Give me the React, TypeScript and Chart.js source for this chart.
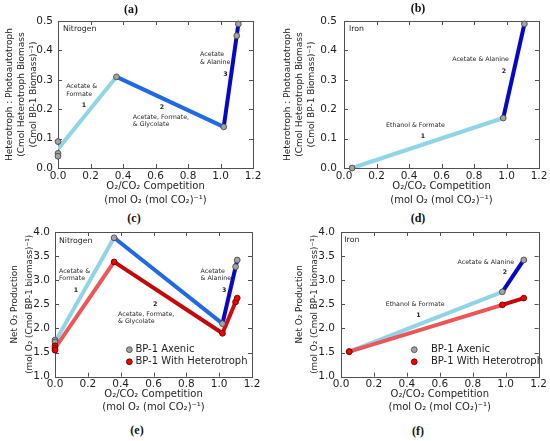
import React, { useEffect, useRef } from "react";
import { Chart, registerables } from "chart.js";

Chart.register(...registerables);

const FONT = '"DejaVu Sans", "Noto Sans", sans-serif';
const TEXT = "#1e1e1e";

// ---------------- data ----------------
const competitionTicks = [0.0, 0.2, 0.4, 0.6, 0.8, 1.0, 1.2];
const ratioTicks = [0.0, 0.1, 0.2, 0.3, 0.4, 0.5];
const productionTicks = [1.0, 1.5, 2.0, 2.5, 3.0, 3.5, 4.0];

// (a) Nitrogen: heterotroph : photoautotroph ratio
const nitrogenRatioLineX = [0.0, 0.36, 1.02, 1.11];
const nitrogenRatioLineY = [0.065, 0.31, 0.14, 0.49];
const nitrogenRatioPointX = [0.0, 0.0, 0.0, 0.36, 1.02, 1.1, 1.11];
const nitrogenRatioPointY = [0.09, 0.05, 0.04, 0.31, 0.14, 0.45, 0.49];

// (b) Iron: heterotroph : photoautotroph ratio
const ironRatioLineX = [0.05, 0.98, 1.11];
const ironRatioLineY = [0.0, 0.17, 0.49];
const ironRatioPointX = [0.05, 0.98, 1.11];
const ironRatioPointY = [0.0, 0.17, 0.49];

// (c) Nitrogen: net O2 production
const nitrogenLineX = [0.0, 0.36, 1.02, 1.11];
const nitrogenAxenicLineY = [1.72, 3.88, 2.1, 3.42];
const nitrogenHetLineY = [1.59, 3.38, 1.9, 2.63];
const nitrogenAxenicPointX = [0.0, 0.0, 0.36, 1.02, 1.1, 1.11];
const nitrogenAxenicPointY = [1.76, 1.72, 3.88, 2.1, 3.28, 3.42];
const nitrogenHetPointX = [0.0, 0.0, 0.0, 0.36, 1.02, 1.1, 1.11];
const nitrogenHetPointY = [1.64, 1.59, 1.55, 3.38, 1.9, 2.55, 2.63];

// (d) Iron: net O2 production
const ironLineX = [0.05, 0.98, 1.11];
const ironAxenicLineY = [1.52, 2.76, 3.42];
const ironHetLineY = [1.52, 2.49, 2.63];
const ironPointX = [0.05, 0.98, 1.11];
const ironAxenicPointY = [1.52, 2.76, 3.42];
const ironHetPointY = [1.52, 2.49, 2.63];

const legendLabels = ["BP-1 Axenic", "BP-1 With Heterotroph"];

const xTitle = ["O\u2082/CO\u2082 Competition", "(mol O\u2082 (mol CO\u2082)\u207B\u00B9)"];
const ratioTitle = [
  "Heterotroph : Photoautotroph",
  "(Cmol Heterotroph Biomass",
  "(Cmol BP-1 Biomass)\u207B\u00B9)",
];
const productionTitle = ["Net O\u2082 Production", "(mol O\u2082 (Cmol BP-1 biomass)\u207B\u00B9)"];

// ---------------- styles ----------------
const LIGHT_BLUE = "#8fd5e6";
const MID_BLUE = "#1f68e6";
const DARK_BLUE = "#0606c8";
const LIGHT_RED = "#ec5656";
const DARK_RED = "#c20808";
const RED3 = "#d20c0c";
const GREY_FILL = "#a4a4a4";
const GREY_EDGE = "#4a4a4a";
const RED_FILL = "#f40000";
const RED_EDGE = "#6a0000";
const TICK_SIZE = 10.5;

const pts = (xs: number[], ys: number[]) => xs.map((x, i) => ({ x, y: ys[i] }));

const panels: any[] = [
  {
    key: "a",
    box: { left: 0, top: 14, width: 270, height: 194 },
    pad: { top: 7, right: 17, left: 0, bottom: 0 },
    yW: 58, xH: 40, xTickPad: 2.4, yTickPad: 5,
    xTitlePb: 1.35, yTitle: ratioTitle, yTitleSize: 9, yTitleLh: 12, yTitleFirst: 10,
    yTicks: ratioTicks, yMin: 0, yMax: 0.5,
    lines: [{ xs: nitrogenRatioLineX, ys: nitrogenRatioLineY, colors: [LIGHT_BLUE, MID_BLUE, DARK_BLUE], order: 2 }],
    points: [{ xs: nitrogenRatioPointX, ys: nitrogenRatioPointY, fill: GREY_FILL, edge: GREY_EDGE, order: 0 }],
    notes: [
      { t: "Nitrogen", x: 0.03, y: 0.473, s: 7.8 },
      { t: "Acetate &", x: 0.05, y: 0.276 },
      { t: "Formate", x: 0.05, y: 0.252 },
      { t: "1", x: 0.16, y: 0.214, b: true },
      { t: "2", x: 0.64, y: 0.207, b: true },
      { t: "Acetate, Formate,", x: 0.46, y: 0.173 },
      { t: "& Glycolate", x: 0.46, y: 0.15 },
      { t: "Acetate", x: 0.874, y: 0.388 },
      { t: "& Alanine", x: 0.874, y: 0.36 },
      { t: "3", x: 1.03, y: 0.32, b: true },
    ],
  },
  {
    key: "b",
    box: { left: 275, top: 14, width: 275, height: 194 },
    pad: { top: 7, right: 11, left: 0, bottom: 0 },
    yW: 69, xH: 40, xTickPad: 2.4, yTickPad: 7,
    xTitlePb: 1.35, yTitle: ratioTitle, yTitleSize: 9, yTitleLh: 12, yTitleFirst: 13,
    yTicks: ratioTicks, yMin: 0, yMax: 0.5,
    lines: [{ xs: ironRatioLineX, ys: ironRatioLineY, colors: [LIGHT_BLUE, DARK_BLUE], order: 2 }],
    points: [{ xs: ironRatioPointX, ys: ironRatioPointY, fill: GREY_FILL, edge: GREY_EDGE, order: 0 }],
    notes: [
      { t: "Iron", x: 0.03, y: 0.473, s: 7.8 },
      { t: "Acetate & Alanine", x: 0.84, y: 0.371, c: true },
      { t: "2", x: 0.985, y: 0.33, b: true },
      { t: "Ethanol & Formate", x: 0.44, y: 0.144, c: true },
      { t: "1", x: 0.486, y: 0.106, b: true },
    ],
  },
  {
    key: "c",
    box: { left: 0, top: 226, width: 270, height: 188 },
    pad: { top: 6, right: 18, left: 0, bottom: 0 },
    yW: 55, xH: 37.3, xTickPad: 1.3, yTickPad: 5,
    xTitlePb: 0, yTitle: productionTitle, yTitleSize: 8.8, yTitleLh: 14.5, yTitleFirst: 15,
    yTicks: productionTicks, yMin: 1, yMax: 4,
    lines: [
      { xs: nitrogenLineX, ys: nitrogenAxenicLineY, colors: [LIGHT_BLUE, MID_BLUE, DARK_BLUE], order: 2 },
      { xs: nitrogenLineX, ys: nitrogenHetLineY, colors: [LIGHT_RED, DARK_RED, RED3], order: 1 },
    ],
    points: [
      { xs: nitrogenHetPointX, ys: nitrogenHetPointY, fill: RED_FILL, edge: RED_EDGE, order: 0 },
      { xs: nitrogenAxenicPointX, ys: nitrogenAxenicPointY, fill: GREY_FILL, edge: GREY_EDGE, order: 0.5 },
    ],
    notes: [
      { t: "Nitrogen", x: 0.024, y: 3.82, s: 7.8 },
      { t: "Acetate &", x: 0.024, y: 3.18 },
      { t: "Formate", x: 0.024, y: 3.04 },
      { t: "1", x: 0.128, y: 2.8, b: true },
      { t: "2", x: 0.61, y: 2.51, b: true },
      { t: "Acetate, Formate,", x: 0.384, y: 2.29 },
      { t: "& Glycolate", x: 0.384, y: 2.14 },
      { t: "Acetate", x: 0.887, y: 3.18 },
      { t: "& Alanine", x: 0.887, y: 3.04 },
      { t: "3", x: 1.03, y: 2.8, b: true },
    ],
    legend: { markerX: 0.453, textX: 0.49, rows: [1.56, 1.31] },
  },
  {
    key: "d",
    box: { left: 275, top: 226, width: 275, height: 188 },
    pad: { top: 6, right: 11.4, left: 0, bottom: 0 },
    yW: 66, xH: 37.3, xTickPad: 1.3, yTickPad: 6,
    xTitlePb: 0, yTitle: productionTitle, yTitleSize: 8.8, yTitleLh: 14.5, yTitleFirst: 25,
    yTicks: productionTicks, yMin: 1, yMax: 4,
    lines: [
      { xs: ironLineX, ys: ironAxenicLineY, colors: [LIGHT_BLUE, DARK_BLUE], order: 2 },
      { xs: ironLineX, ys: ironHetLineY, colors: [LIGHT_RED, DARK_RED], order: 1 },
    ],
    points: [
      { xs: ironPointX, ys: ironHetPointY, fill: RED_FILL, edge: RED_EDGE, order: 0 },
      { xs: ironPointX, ys: ironAxenicPointY, fill: GREY_FILL, edge: GREY_EDGE, order: 0.5 },
    ],
    notes: [
      { t: "Iron", x: 0.02, y: 3.84, s: 7.8 },
      { t: "Acetate & Alanine", x: 0.88, y: 3.37, c: true },
      { t: "2", x: 0.995, y: 3.17, b: true },
      { t: "Ethanol & Formate", x: 0.45, y: 2.49, c: true },
      { t: "1", x: 0.47, y: 2.28, b: true },
    ],
    legend: { markerX: 0.445, textX: 0.546, rows: [1.56, 1.31] },
  },
];

const captions = [
  { t: "(a)", x: 131, y: 9 },
  { t: "(b)", x: 418, y: 8 },
  { t: "(c)", x: 134, y: 218 },
  { t: "(d)", x: 418, y: 218 },
  { t: "(e)", x: 137, y: 430 },
  { t: "(f)", x: 418, y: 431 },
];

function decorPlugin(spec: any) {
  return {
    id: "decor" + spec.key,
    beforeDatasetsDraw(chart: any) {
      const { ctx, chartArea: a } = chart;
      const xs = chart.scales.x;
      const ys = chart.scales.y;
      ctx.save();
      ctx.strokeStyle = "#505050";
      ctx.lineWidth = 1;
      ctx.strokeRect(Math.round(a.left) + 0.5, Math.round(a.top) + 0.5, Math.round(a.right - a.left), Math.round(a.bottom - a.top));
      ctx.beginPath();
      const TL = 4;
      competitionTicks.forEach((v) => {
        const px = Math.round(xs.getPixelForValue(v)) + 0.5;
        ctx.moveTo(px, a.bottom);
        ctx.lineTo(px, a.bottom - TL);
        ctx.moveTo(px, a.top);
        ctx.lineTo(px, a.top + TL);
      });
      spec.yTicks.forEach((v: number) => {
        const py = Math.round(ys.getPixelForValue(v)) + 0.5;
        ctx.moveTo(a.left, py);
        ctx.lineTo(a.left + TL, py);
        ctx.moveTo(a.right, py);
        ctx.lineTo(a.right - TL, py);
      });
      ctx.stroke();
      ctx.restore();
    },
    afterDraw(chart: any) {
      const { ctx } = chart;
      const xs = chart.scales.x;
      const ys = chart.scales.y;
      ctx.save();
      ctx.fillStyle = TEXT;
      ctx.textBaseline = "middle";
      spec.notes.forEach((n: any) => {
        const size = n.s || 6.3;
        ctx.font = `${n.b ? "bold " : ""}${size}px ${FONT}`;
        ctx.textAlign = n.b || n.c ? "center" : "left";
        ctx.fillText(n.t, xs.getPixelForValue(n.x), ys.getPixelForValue(n.y));
      });
      if (spec.legend) {
        const lg = spec.legend;
        const styles = [
          { fill: GREY_FILL, edge: GREY_EDGE },
          { fill: RED_FILL, edge: RED_EDGE },
        ];
        lg.rows.forEach((ry: number, i: number) => {
          const mx = xs.getPixelForValue(lg.markerX);
          const my = ys.getPixelForValue(ry);
          ctx.beginPath();
          ctx.arc(mx, my, 2.9, 0, Math.PI * 2);
          ctx.fillStyle = styles[i].fill;
          ctx.fill();
          ctx.lineWidth = 0.9;
          ctx.strokeStyle = styles[i].edge;
          ctx.stroke();
          ctx.fillStyle = TEXT;
          ctx.font = `10px ${FONT}`;
          ctx.textAlign = "left";
          ctx.fillText(legendLabels[i], xs.getPixelForValue(lg.textX), my);
        });
      }
      ctx.restore();
    },
  };
}

function buildConfig(spec: any): any {
  const datasets: any[] = [];
  spec.lines.forEach((l: any) => {
    datasets.push({
      type: "line",
      data: pts(l.xs, l.ys),
      borderColor: l.colors[0],
      segment: { borderColor: (c: any) => l.colors[c.p0DataIndex] },
      borderWidth: 4,
      borderCapStyle: "butt",
      pointRadius: 0,
      fill: false,
      tension: 0,
      order: l.order,
    });
  });
  spec.points.forEach((p: any) => {
    datasets.push({
      type: "scatter",
      data: pts(p.xs, p.ys),
      pointRadius: 2.9,
      pointBackgroundColor: p.fill,
      pointBorderColor: p.edge,
      pointBorderWidth: 0.9,
      showLine: false,
      clip: false,
      order: p.order,
    });
  });
  const yLh = spec.yTitleLh;
  return {
    type: "scatter",
    data: { datasets },
    options: {
      responsive: false,
      animation: false,
      events: [],
      layout: { padding: spec.pad },
      plugins: { legend: { display: false }, tooltip: { enabled: false }, title: { display: false } },
      scales: {
        x: {
          type: "linear",
          position: "bottom",
          min: 0,
          max: 1.2,
          afterBuildTicks: (s: any) => {
            s.ticks = competitionTicks.map((v) => ({ value: v }));
          },
          afterFit: (s: any) => {
            s.height = spec.xH;
            s.paddingLeft = 0;
            s.paddingRight = 0;
            s.paddingTop = 0;
            s.paddingBottom = 0;
          },
          ticks: {
            callback: (v: any) => Number(v).toFixed(1),
            font: { family: FONT, size: TICK_SIZE },
            color: TEXT,
            padding: spec.xTickPad,
            maxRotation: 0,
            autoSkip: false,
          },
          grid: { display: false, drawTicks: false, tickLength: 0 },
          border: { display: false },
          title: {
            display: true,
            text: xTitle,
            color: TEXT,
            font: { family: FONT, size: 10, lineHeight: 1.33 },
            padding: { top: 0, bottom: spec.xTitlePb },
          },
        },
        y: {
          type: "linear",
          position: "left",
          min: spec.yMin,
          max: spec.yMax,
          afterBuildTicks: (s: any) => {
            s.ticks = spec.yTicks.map((v: number) => ({ value: v }));
          },
          afterFit: (s: any) => {
            s.width = spec.yW;
            s.paddingLeft = 0;
            s.paddingRight = 0;
            s.paddingTop = 0;
            s.paddingBottom = 0;
          },
          ticks: {
            callback: (v: any) => Number(v).toFixed(1),
            font: { family: FONT, size: TICK_SIZE },
            color: TEXT,
            padding: spec.yTickPad,
            autoSkip: false,
          },
          grid: { display: false, drawTicks: false, tickLength: 0 },
          border: { display: false },
          title: {
            display: true,
            text: spec.yTitle,
            color: TEXT,
            font: { family: FONT, size: spec.yTitleSize, lineHeight: yLh / spec.yTitleSize },
            padding: { top: spec.yTitleFirst - yLh / 2, bottom: 0 },
          },
        },
      },
    },
    plugins: [decorPlugin(spec)],
  };
}

function Panel({ spec }: { spec: any }) {
  const ref = useRef<HTMLCanvasElement | null>(null);
  useEffect(() => {
    if (!ref.current) return;
    const chart = new Chart(ref.current, buildConfig(spec));
    return () => chart.destroy();
  }, [spec]);
  return (
    <div style={{ position: "absolute", left: spec.box.left, top: spec.box.top, width: spec.box.width, height: spec.box.height }}>
      <canvas
        ref={ref}
        width={spec.box.width}
        height={spec.box.height}
        style={{ width: spec.box.width, height: spec.box.height, display: "block" }}
      />
    </div>
  );
}

export default function App() {
  return (
    <div style={{ position: "absolute", left: 0, top: 0, width: 550, height: 441, background: "#fff", overflow: "hidden" }}>
      {panels.map((p) => (
        <Panel key={p.key} spec={p} />
      ))}
      {captions.map((c) => (
        <div
          key={c.t}
          style={{
            position: "absolute",
            left: c.x,
            top: c.y,
            transform: "translate(-50%, -50%)",
            fontFamily: '"Liberation Serif", "DejaVu Serif", serif',
            fontWeight: "bold",
            fontSize: 12,
            lineHeight: 1,
            color: "#111",
            whiteSpace: "nowrap",
          }}
        >
          {c.t}
        </div>
      ))}
    </div>
  );
}
